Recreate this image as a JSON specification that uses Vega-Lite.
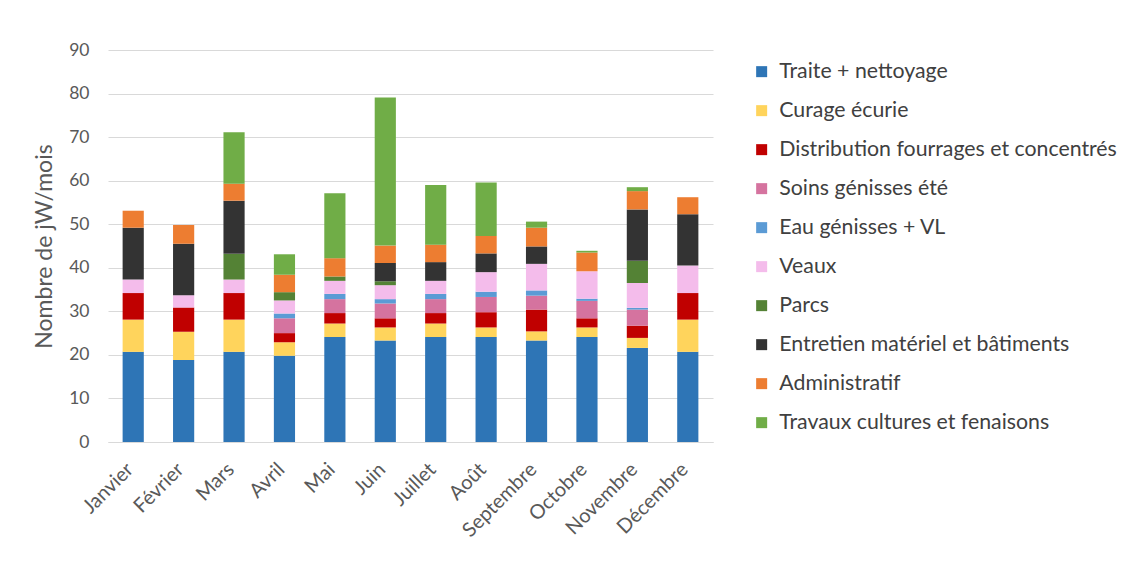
{
  "$schema": "https://vega.github.io/schema/vega-lite/v6.json",
  "width": 605,
  "height": 392,
  "autosize": {"type": "none"},
  "padding": {"left": 108, "top": 50, "right": 430, "bottom": 130},
  "background": "#ffffff",
  "config": {
    "font": "Lato",
    "view": {"stroke": null},
    "axis": {"labelFont": "Lato", "titleFont": "Lato"},
    "legend": {"labelFont": "Lato"}
  },
  "data": {"values": [
    {"m":"Janvier","c":"Traite + nettoyage","k":1,"v":20.7},
    {"m":"Janvier","c":"Curage écurie","k":2,"v":7.4},
    {"m":"Janvier","c":"Distribution fourrages et concentrés","k":3,"v":6.1},
    {"m":"Janvier","c":"Veaux","k":6,"v":3.1},
    {"m":"Janvier","c":"Entretien matériel et bâtiments","k":8,"v":11.9},
    {"m":"Janvier","c":"Administratif","k":9,"v":3.9},

    {"m":"Février","c":"Traite + nettoyage","k":1,"v":18.8},
    {"m":"Février","c":"Curage écurie","k":2,"v":6.5},
    {"m":"Février","c":"Distribution fourrages et concentrés","k":3,"v":5.6},
    {"m":"Février","c":"Veaux","k":6,"v":2.8},
    {"m":"Février","c":"Entretien matériel et bâtiments","k":8,"v":11.8},
    {"m":"Février","c":"Administratif","k":9,"v":4.3},

    {"m":"Mars","c":"Traite + nettoyage","k":1,"v":20.7},
    {"m":"Mars","c":"Curage écurie","k":2,"v":7.4},
    {"m":"Mars","c":"Distribution fourrages et concentrés","k":3,"v":6.1},
    {"m":"Mars","c":"Veaux","k":6,"v":3.1},
    {"m":"Mars","c":"Parcs","k":7,"v":5.9},
    {"m":"Mars","c":"Entretien matériel et bâtiments","k":8,"v":12.2},
    {"m":"Mars","c":"Administratif","k":9,"v":3.9},
    {"m":"Mars","c":"Travaux cultures et fenaisons","k":10,"v":11.8},

    {"m":"Avril","c":"Traite + nettoyage","k":1,"v":19.8},
    {"m":"Avril","c":"Curage écurie","k":2,"v":3.1},
    {"m":"Avril","c":"Distribution fourrages et concentrés","k":3,"v":2.1},
    {"m":"Avril","c":"Soins génisses été","k":4,"v":3.4},
    {"m":"Avril","c":"Eau génisses + VL","k":5,"v":1.1},
    {"m":"Avril","c":"Veaux","k":6,"v":3.0},
    {"m":"Avril","c":"Parcs","k":7,"v":1.9},
    {"m":"Avril","c":"Administratif","k":9,"v":4.0},
    {"m":"Avril","c":"Travaux cultures et fenaisons","k":10,"v":4.7},

    {"m":"Mai","c":"Traite + nettoyage","k":1,"v":24.1},
    {"m":"Mai","c":"Curage écurie","k":2,"v":3.1},
    {"m":"Mai","c":"Distribution fourrages et concentrés","k":3,"v":2.4},
    {"m":"Mai","c":"Soins génisses été","k":4,"v":3.2},
    {"m":"Mai","c":"Eau génisses + VL","k":5,"v":1.2},
    {"m":"Mai","c":"Veaux","k":6,"v":3.0},
    {"m":"Mai","c":"Parcs","k":7,"v":1.0},
    {"m":"Mai","c":"Administratif","k":9,"v":4.2},
    {"m":"Mai","c":"Travaux cultures et fenaisons","k":10,"v":14.9},

    {"m":"Juin","c":"Traite + nettoyage","k":1,"v":23.3},
    {"m":"Juin","c":"Curage écurie","k":2,"v":3.0},
    {"m":"Juin","c":"Distribution fourrages et concentrés","k":3,"v":2.1},
    {"m":"Juin","c":"Soins génisses été","k":4,"v":3.4},
    {"m":"Juin","c":"Eau génisses + VL","k":5,"v":1.0},
    {"m":"Juin","c":"Veaux","k":6,"v":3.2},
    {"m":"Juin","c":"Parcs","k":7,"v":0.9},
    {"m":"Juin","c":"Entretien matériel et bâtiments","k":8,"v":4.2},
    {"m":"Juin","c":"Administratif","k":9,"v":4.0},
    {"m":"Juin","c":"Travaux cultures et fenaisons","k":10,"v":34.0},

    {"m":"Juillet","c":"Traite + nettoyage","k":1,"v":24.1},
    {"m":"Juillet","c":"Curage écurie","k":2,"v":3.1},
    {"m":"Juillet","c":"Distribution fourrages et concentrés","k":3,"v":2.4},
    {"m":"Juillet","c":"Soins génisses été","k":4,"v":3.2},
    {"m":"Juillet","c":"Eau génisses + VL","k":5,"v":1.2},
    {"m":"Juillet","c":"Veaux","k":6,"v":3.0},
    {"m":"Juillet","c":"Entretien matériel et bâtiments","k":8,"v":4.3},
    {"m":"Juillet","c":"Administratif","k":9,"v":4.0},
    {"m":"Juillet","c":"Travaux cultures et fenaisons","k":10,"v":13.7},

    {"m":"Août","c":"Traite + nettoyage","k":1,"v":24.1},
    {"m":"Août","c":"Curage écurie","k":2,"v":2.2},
    {"m":"Août","c":"Distribution fourrages et concentrés","k":3,"v":3.5},
    {"m":"Août","c":"Soins génisses été","k":4,"v":3.5},
    {"m":"Août","c":"Eau génisses + VL","k":5,"v":1.2},
    {"m":"Août","c":"Veaux","k":6,"v":4.5},
    {"m":"Août","c":"Entretien matériel et bâtiments","k":8,"v":4.3},
    {"m":"Août","c":"Administratif","k":9,"v":4.0},
    {"m":"Août","c":"Travaux cultures et fenaisons","k":10,"v":12.3},

    {"m":"Septembre","c":"Traite + nettoyage","k":1,"v":23.3},
    {"m":"Septembre","c":"Curage écurie","k":2,"v":2.1},
    {"m":"Septembre","c":"Distribution fourrages et concentrés","k":3,"v":5.0},
    {"m":"Septembre","c":"Soins génisses été","k":4,"v":3.2},
    {"m":"Septembre","c":"Eau génisses + VL","k":5,"v":1.2},
    {"m":"Septembre","c":"Veaux","k":6,"v":6.1},
    {"m":"Septembre","c":"Entretien matériel et bâtiments","k":8,"v":4.0},
    {"m":"Septembre","c":"Administratif","k":9,"v":4.3},
    {"m":"Septembre","c":"Travaux cultures et fenaisons","k":10,"v":1.4},

    {"m":"Octobre","c":"Traite + nettoyage","k":1,"v":24.1},
    {"m":"Octobre","c":"Curage écurie","k":2,"v":2.2},
    {"m":"Octobre","c":"Distribution fourrages et concentrés","k":3,"v":2.1},
    {"m":"Octobre","c":"Soins génisses été","k":4,"v":4.0},
    {"m":"Octobre","c":"Eau génisses + VL","k":5,"v":0.5},
    {"m":"Octobre","c":"Veaux","k":6,"v":6.3},
    {"m":"Octobre","c":"Administratif","k":9,"v":4.3},
    {"m":"Octobre","c":"Travaux cultures et fenaisons","k":10,"v":0.4},

    {"m":"Novembre","c":"Traite + nettoyage","k":1,"v":21.6},
    {"m":"Novembre","c":"Curage écurie","k":2,"v":2.3},
    {"m":"Novembre","c":"Distribution fourrages et concentrés","k":3,"v":2.8},
    {"m":"Novembre","c":"Soins génisses été","k":4,"v":3.7},
    {"m":"Novembre","c":"Eau génisses + VL","k":5,"v":0.4},
    {"m":"Novembre","c":"Veaux","k":6,"v":5.7},
    {"m":"Novembre","c":"Parcs","k":7,"v":5.1},
    {"m":"Novembre","c":"Entretien matériel et bâtiments","k":8,"v":11.8},
    {"m":"Novembre","c":"Administratif","k":9,"v":4.2},
    {"m":"Novembre","c":"Travaux cultures et fenaisons","k":10,"v":0.9},

    {"m":"Décembre","c":"Traite + nettoyage","k":1,"v":20.7},
    {"m":"Décembre","c":"Curage écurie","k":2,"v":7.4},
    {"m":"Décembre","c":"Distribution fourrages et concentrés","k":3,"v":6.1},
    {"m":"Décembre","c":"Veaux","k":6,"v":6.3},
    {"m":"Décembre","c":"Entretien matériel et bâtiments","k":8,"v":11.8},
    {"m":"Décembre","c":"Administratif","k":9,"v":3.9}
  ]},
  "mark": {"type": "bar"},
  "encoding": {
    "x": {
      "field": "m",
      "type": "nominal",
      "sort": ["Janvier","Février","Mars","Avril","Mai","Juin","Juillet","Août","Septembre","Octobre","Novembre","Décembre"],
      "scale": {"paddingInner": 0.58, "paddingOuter": 0.29},
      "axis": {
        "title": null,
        "labelAngle": -45,
        "labelFontSize": 20,
        "labelColor": "#595959",
        "labelPadding": 17,
        "labelOffset": -10,
        "ticks": false,
        "domainColor": "#d9d9d9",
        "domainWidth": 1
      }
    },
    "y": {
      "field": "v",
      "type": "quantitative",
      "stack": "zero",
      "scale": {"domain": [0, 90]},
      "axis": {
        "title": "Nombre de jW/mois",
        "titleFontSize": 23,
        "titleFontWeight": "normal",
        "titleColor": "#595959",
        "titlePadding": 12,
        "values": [0,10,20,30,40,50,60,70,80,90],
        "labelFontSize": 17.5,
        "labelColor": "#595959",
        "labelPadding": 19,
        "ticks": false,
        "domain": false,
        "gridColor": "#d9d9d9",
        "gridWidth": 1
      }
    },
    "color": {
      "field": "c",
      "type": "nominal",
      "scale": {
        "domain": ["Traite + nettoyage","Curage écurie","Distribution fourrages et concentrés","Soins génisses été","Eau génisses + VL","Veaux","Parcs","Entretien matériel et bâtiments","Administratif","Travaux cultures et fenaisons"],
        "range": ["#2E75B6","#FFD45C","#C00000","#D5739F","#5B9BD5","#F4BCEB","#548235","#333333","#ED7D31","#70AD47"]
      },
      "legend": {
        "title": null,
        "orient": "none",
        "legendX": 643,
        "legendY": 11,
        "symbolType": "square",
        "symbolSize": 121,
        "symbolStrokeWidth": 0,
        "labelFontSize": 21.3,
        "labelColor": "#404040",
        "labelOffset": 7,
        "rowPadding": 17,
        "labelLimit": 420
      }
    },
    "order": {"field": "k", "type": "quantitative", "sort": "ascending"}
  }
}
